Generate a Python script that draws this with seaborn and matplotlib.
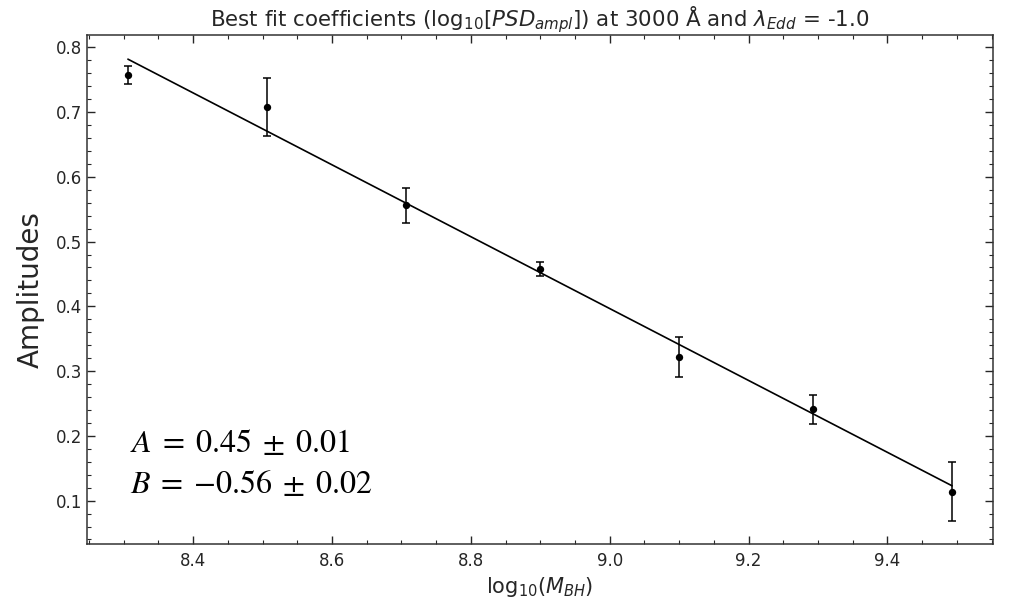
import numpy as np
import pandas as pd
import matplotlib
matplotlib.use("Agg")
import matplotlib.pyplot as plt
import seaborn as sns
from matplotlib.ticker import MultipleLocator

# Data
log_mbh = [8.306, 8.506, 8.706, 8.900, 9.100, 9.292, 9.493]
amplitude = [0.757, 0.708, 0.556, 0.458, 0.322, 0.241, 0.114]
amp_err = [0.014, 0.045, 0.027, 0.011, 0.031, 0.022, 0.045]

# Fit parameters (line: A + B * (x - pivot))
fit_A = 0.452
fit_B = -0.555
pivot = 8.9

sns.set_style("ticks")
plt.rcParams['font.family'] = ['DejaVu Sans']

df = pd.DataFrame({'log_mbh': log_mbh, 'amp': amplitude, 'err': amp_err})
df['fit'] = fit_A + fit_B * (df['log_mbh'] - pivot)

fig = plt.figure(figsize=(10.1, 6.0), dpi=100)
ax = fig.add_axes([0.0861, 0.0933, 0.8971, 0.8484])

# fit line
sns.lineplot(data=df, x='log_mbh', y='fit', ax=ax, color='black', linewidth=1.2)

# points with error bars
ax.errorbar(df['log_mbh'], df['amp'], yerr=df['err'], fmt='none',
            ecolor='black', elinewidth=1.1, capsize=3, capthick=1.1)
sns.scatterplot(data=df, x='log_mbh', y='amp', ax=ax, color='black',
                s=28, edgecolor='black', linewidth=0, zorder=3)

ax.set_xlim(8.247, 9.552)
ax.set_ylim(0.033, 0.819)

ax.xaxis.set_major_locator(MultipleLocator(0.2))
ax.xaxis.set_minor_locator(MultipleLocator(0.05))
ax.yaxis.set_major_locator(MultipleLocator(0.1))
ax.yaxis.set_minor_locator(MultipleLocator(0.02))
ax.tick_params(which='both', direction='in', top=True, right=True, labelsize=12)
ax.tick_params(which='major', length=6, width=1)
ax.tick_params(which='minor', length=3, width=0.8)
ax.tick_params(axis='x', which='major', pad=6)
for sp in ax.spines.values():
    sp.set_linewidth(1.1)
    sp.set_color('#333333')

ax.set_title(r"Best fit coefficients (log$_{10}$[$PSD_{ampl}$]) at 3000 Å and $\lambda_{Edd}$ = -1.0",
             fontsize=15.4, pad=5)
ax.set_xlabel(r"log$_{10}$($M_{BH}$)", fontsize=15, labelpad=3)
ax.set_ylabel("Amplitudes", fontsize=20, labelpad=8)

ax.text(0.047, 0.181, r"$A\;=\;0.45\;\pm\;0.01$", transform=ax.transAxes,
        fontsize=23, math_fontfamily='stix', ha='left', va='baseline', color='black')
ax.text(0.047, 0.100, r"$B\;=\;{-}0.56\;\pm\;0.02$", transform=ax.transAxes,
        fontsize=23, math_fontfamily='stix', ha='left', va='baseline', color='black')

fig.savefig("out.png", dpi=100)
